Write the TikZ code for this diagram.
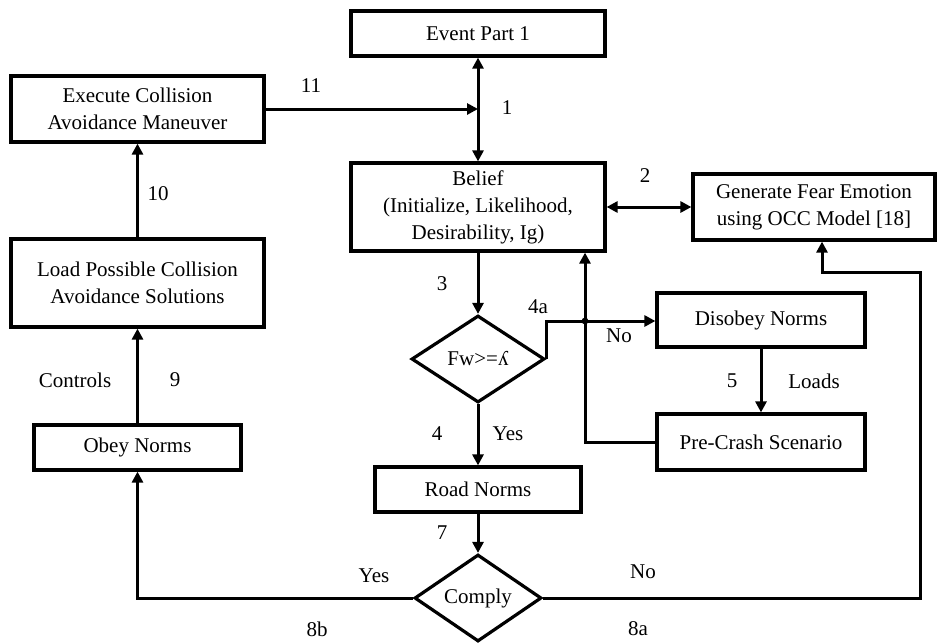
\documentclass[tikz,border=0pt]{standalone}
\usepackage{fontspec}
\setmainfont{Liberation Serif}
\usetikzlibrary{shapes.geometric,arrows.meta}
\begin{document}
\begin{tikzpicture}[x=1pt,y=-1pt,
  every node/.style={font=\fontsize{21}{27}\selectfont},
  box/.style={draw,line width=3.2pt,rectangle,align=center,inner sep=0pt},
  dia/.style={draw,line width=3.2pt,diamond,inner sep=0pt},
  lbl/.style={inner sep=0pt},
  conn/.style={line width=3pt},
  arr/.style={conn,-{Triangle[length=11pt,width=11pt]}},
  darr/.style={conn,{Triangle[length=11pt,width=11pt]}-{Triangle[length=11pt,width=11pt]}}]
\useasboundingbox (0,0) rectangle (937,643);
\node[box,minimum width=254pt,minimum height=45pt] (ev) at (478,33.5) {Event Part 1};
\node[box,minimum width=253pt,minimum height=66pt] (exe) at (137.5,109) {Execute Collision\\Avoidance Maneuver};
\node[box,minimum width=254pt,minimum height=88pt] (bel) at (478,207) {Belief\\(Initialize, Likelihood,\\Desirability, Ig)};
\node[box,minimum width=242pt,minimum height=66pt] (fear) at (814,207) {Generate Fear Emotion\\using OCC Model [18]};
\node[box,minimum width=253pt,minimum height=88pt] (load) at (137.5,283) {Load Possible Collision\\Avoidance Solutions};
\node[box,minimum width=208pt,minimum height=54pt] (dis) at (761,320) {Disobey Norms};
\node[box,minimum width=208pt,minimum height=56pt] (pre) at (761,442) {Pre-Crash Scenario};
\node[box,minimum width=207pt,minimum height=45pt] (obey) at (137.5,447.5) {Obey Norms};
\node[box,minimum width=206pt,minimum height=45pt] (road) at (478,489.5) {Road Norms};
\node[dia,minimum width=133pt,minimum height=87pt] (fw) at (478,359) {Fw>=ʎ};
\node[dia,minimum width=127pt,minimum height=87pt] (comply) at (478,598) {Comply};
% connectors
\coordinate (j11) at (ev.south |- exe.east);
\draw[darr] (ev.south) -- (bel.north);
\draw[arr] (exe.east) -- (j11);
\draw[darr] (bel.east) -- (fear.west);
\draw[arr] (load.north) -- (exe.south);
\draw[arr] (obey.north) -- (load.south);
\draw[arr] (bel.south) -- (fw.north);
\coordinate (jd) at (585,321);
\draw[arr] (fw.east) -- (fw.east |- jd) -- (dis.west |- jd);
\coordinate (fb) at (585,442);
\draw[arr] (pre.west) -- (fb) -- (fb |- bel.south);
\fill (jd) circle (3.4pt);
\draw[arr] (dis.south) -- (pre.north);
\draw[arr] (fw.south) -- (road.north);
\draw[arr] (road.south) -- (comply.north);
\coordinate (cl) at (obey.south |- comply.west);
\draw[arr] (comply.west) -- (cl) -- (obey.south);
\coordinate (cr1) at (920,598);
\coordinate (cr2) at (920,272);
\coordinate (cr3) at (822,272);
\draw[arr] (comply.east) -- (cr1) -- (cr2) -- (cr3) -- (cr3 |- fear.south);
% labels
\node[lbl] (l11) at (311,86) {11};
\node[lbl] (l1) at (507,108) {1};
\node[lbl] (l2) at (645,176) {2};
\node[lbl] (l10) at (158,194) {10};
\node[lbl] (l3) at (442,284) {3};
\node[lbl] (l4a) at (538,307) {4a};
\node[lbl] (lno1) at (619,336) {No};
\node[lbl] (l5) at (732,381) {5};
\node[lbl] (lloads) at (814,381) {Loads};
\node[lbl] (lctrl) at (75,380) {Controls};
\node[lbl] (l9) at (175,380) {9};
\node[lbl] (l4) at (437,434) {4};
\node[lbl] (lyes1) at (508,434) {Yes};
\node[lbl] (l7) at (442,533) {7};
\node[lbl] (lyes2) at (374,576) {Yes};
\node[lbl] (lno2) at (643,572) {No};
\node[lbl] (l8b) at (317,629) {8b};
\node[lbl] (l8a) at (638,629) {8a};
\end{tikzpicture}
\end{document}
